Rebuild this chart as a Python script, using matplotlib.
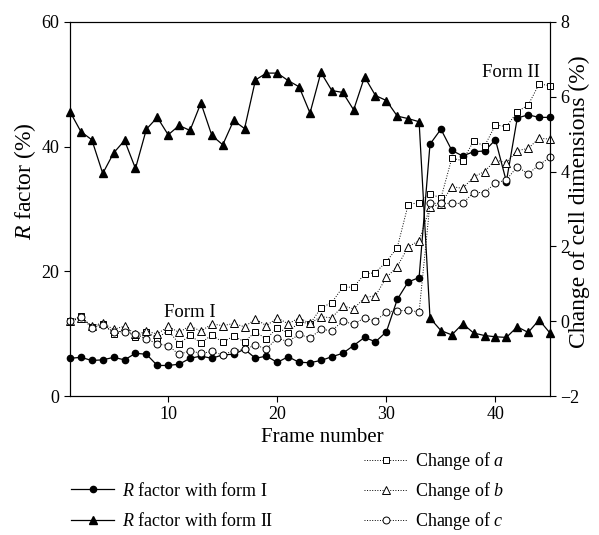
import matplotlib
matplotlib.use("Agg")
import matplotlib.pyplot as plt
from matplotlib.lines import Line2D

plt.rcParams['font.family'] = ['Liberation Serif', 'DejaVu Serif']
plt.rcParams['mathtext.fontset'] = 'custom'
plt.rcParams['mathtext.rm'] = 'Liberation Serif'
plt.rcParams['mathtext.it'] = 'Liberation Serif:italic'

# donnees
frames = list(range(1, 46))
r_form1 = [6.05, 6.2, 5.7, 5.8, 6.2, 5.8, 6.85, 6.7, 4.9, 4.9,
           5.1, 6.05, 6.4, 6.05, 6.6, 6.7, 7.5, 6.05, 6.4, 5.4,
           6.3, 5.4, 5.35, 5.7, 6.3, 6.85, 8.1, 9.4, 8.7, 10.3,
           15.5, 18.3, 19.0, 40.4, 42.8, 39.4, 38.5, 39.2, 39.3, 41.1,
           34.4, 44.6, 45.1, 44.7, 44.7]
r_form2 = [45.6, 42.4, 41.1, 35.7, 39.0, 41.0, 36.5, 42.8, 44.7, 41.9,
           43.4, 42.6, 47.0, 41.8, 40.3, 44.2, 42.9, 50.7, 51.8, 51.8,
           50.6, 49.6, 45.4, 51.9, 49.0, 48.7, 45.9, 51.2, 48.2, 47.4,
           44.9, 44.5, 44.0, 12.5, 10.5, 9.8, 11.6, 10.1, 9.7, 9.5,
           9.4, 11.1, 10.2, 12.2, 10.1]
change_a = [0.0, 0.14, -0.15, -0.07, -0.33, -0.23, -0.42, -0.29, -0.45, -0.25,
            -0.6, -0.38, -0.58, -0.37, -0.56, -0.4, -0.55, -0.28, -0.48, -0.17,
            -0.32, -0.01, -0.07, 0.35, 0.5, 0.91, 0.91, 1.26, 1.3, 1.59,
            1.97, 3.12, 3.17, 3.41, 3.29, 4.36, 4.29, 4.82, 4.68, 5.25,
            5.2, 5.6, 5.78, 6.34, 6.3]
change_b = [0.0, 0.08, -0.12, -0.05, -0.22, -0.13, -0.35, -0.27, -0.34, -0.14,
            -0.3, -0.12, -0.27, -0.07, -0.12, -0.06, -0.15, 0.06, -0.12, 0.09,
            -0.07, 0.09, -0.06, 0.12, 0.09, 0.41, 0.33, 0.63, 0.68, 1.17,
            1.46, 1.99, 2.15, 3.05, 3.13, 3.6, 3.55, 3.86, 4.0, 4.31,
            4.24, 4.56, 4.62, 4.89, 4.87]
change_c = [0.0, 0.1, -0.17, -0.1, -0.28, -0.28, -0.35, -0.47, -0.61, -0.65,
            -0.89, -0.79, -0.86, -0.81, -0.9, -0.79, -0.75, -0.64, -0.74, -0.45,
            -0.55, -0.35, -0.45, -0.22, -0.25, 0.0, -0.08, 0.09, 0.0, 0.25,
            0.28, 0.29, 0.25, 3.15, 3.15, 3.15, 3.15, 3.44, 3.44, 3.69,
            3.78, 4.13, 3.94, 4.18, 4.38]

fig = plt.figure(figsize=(5.99, 5.35), dpi=100)
ax = fig.add_axes([0.1169, 0.2598, 0.8013, 0.6991])
ax2 = ax.twinx()

ax.plot(frames, r_form1, color="black", lw=0.9, marker="o", ms=4.5, clip_on=False, zorder=3)
ax.plot(frames, r_form2, color="black", lw=0.9, marker="^", ms=5.5, clip_on=False, zorder=3)

style_ouvert = dict(color="black", lw=0.7, ls=":", mfc="white", mew=0.7, clip_on=False)
ax2.plot(frames, change_a, marker="s", ms=5, **style_ouvert)
ax2.plot(frames, change_b, marker="^", ms=5.5, **style_ouvert)
ax2.plot(frames, change_c, marker="o", ms=5, **style_ouvert)

ax.set_xlim(1, 45)
ax.set_ylim(0, 60)
ax.set_xticks([10, 20, 30, 40])
ax.set_yticks([0, 20, 40, 60])
ax2.set_ylim(-2, 8)
ax2.set_yticks([-2, 0, 2, 4, 6, 8])

for a in (ax, ax2):
    a.tick_params(direction="out", length=4, width=0.8, labelsize=13)
    for s in a.spines.values():
        s.set_linewidth(0.8)

ax.set_xlabel("Frame number", fontsize=15)
ax.xaxis.set_label_coords(0.526, -0.085)
ax.set_ylabel("$R$ factor (%)", fontsize=17)
ax.yaxis.set_label_coords(-0.066, 0.575)
ax2.set_ylabel("Change of cell dimensions (%)", fontsize=17)
ax2.yaxis.set_label_coords(1.04, 0.52)

ax.text(9.6, 12.7, "Form I", fontsize=13.5, va="baseline", ha="left")
ax.text(38.8, 51.2, "Form II", fontsize=13.5, va="baseline", ha="left")

# legendes sous le graphique
h_gauche = [
    Line2D([], [], color="black", lw=0.9, marker="o", ms=4.5),
    Line2D([], [], color="black", lw=0.9, marker="^", ms=5.5),
]
h_droite = [
    Line2D([], [], color="black", lw=0.7, ls=":", marker="s", ms=5, mfc="white", mew=0.7),
    Line2D([], [], color="black", lw=0.7, ls=":", marker="^", ms=5.5, mfc="white", mew=0.7),
    Line2D([], [], color="black", lw=0.7, ls=":", marker="o", ms=5, mfc="white", mew=0.7),
]
leg1 = fig.legend(h_gauche, ["$R$ factor with form I", "$R$ factor with form II"],
                  loc="center left", bbox_to_anchor=(0.1035, 0.0542), frameon=False,
                  fontsize=13, handlelength=2.4, handletextpad=0.4, labelspacing=0.7,
                  borderpad=0, numpoints=1)
leg2 = fig.legend(h_droite, ["Change of $a$", "Change of $b$", "Change of $c$"],
                  loc="center left", bbox_to_anchor=(0.5927, 0.0822), frameon=False,
                  fontsize=13, handlelength=2.4, handletextpad=0.4, labelspacing=0.45,
                  borderpad=0, numpoints=1)

fig.savefig("out.png", dpi=100)
